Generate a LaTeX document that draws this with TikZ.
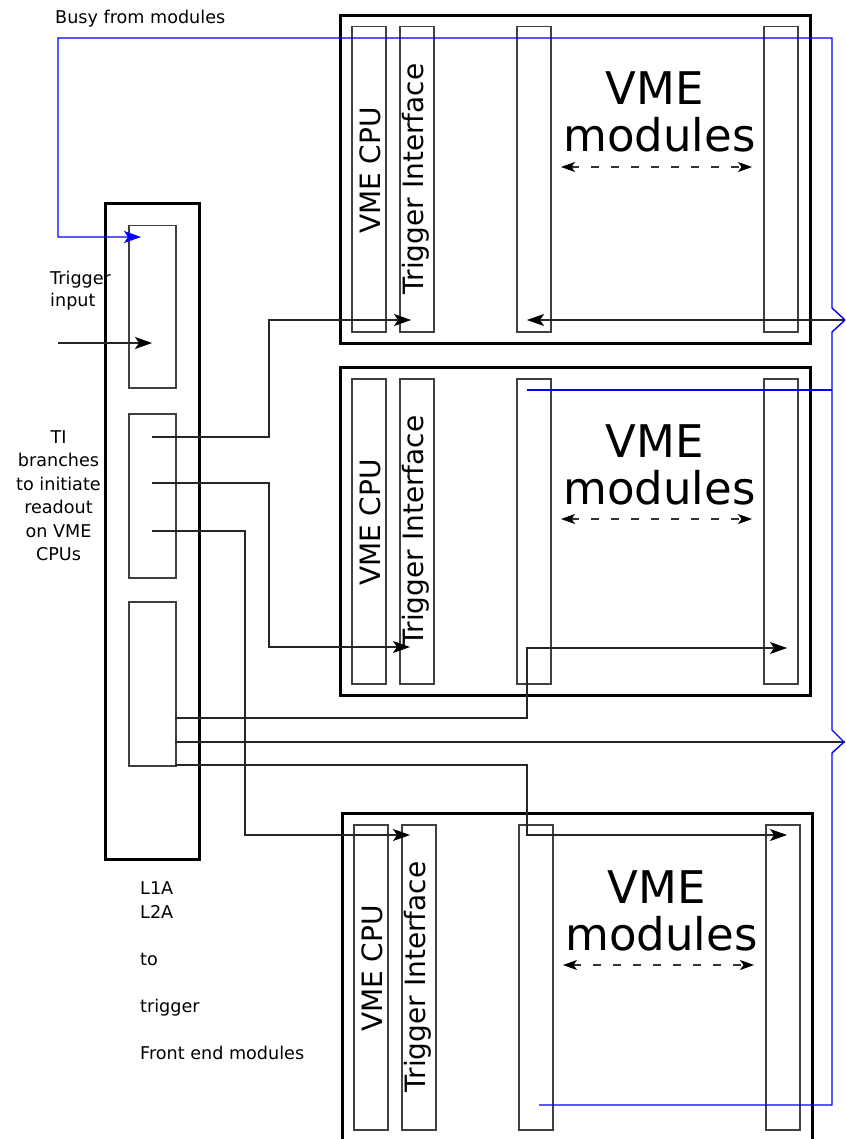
\documentclass[tikz,border=0pt]{standalone}
\usepackage{fontspec}
\setmainfont{DejaVu Sans}
\usetikzlibrary{arrows.meta}
\tikzset{
  crate/.style={draw=black, line width=3pt, rectangle, inner sep=0pt, anchor=north west},
  slot/.style={draw=black!75, line width=1.5pt, rectangle, inner sep=0pt, anchor=north west},
  wire/.style={draw=black!85, line width=1.1pt},
  arr/.style={wire, -{Stealth[length=17pt,width=12pt,inset=4pt,black]}},
  dasharr/.style={draw=black!80, line width=1.1pt, dash pattern=on 8pt off 12pt,
    {Stealth[length=14pt,width=10pt,inset=3.5pt,black]}-{Stealth[length=14pt,width=10pt,inset=3.5pt,black]}},
  busy/.style={draw=blue, line width=1.4pt},
  lbl/.style={font=\fontsize{17.6}{21}\selectfont, inner sep=0pt},
  vtxt/.style={font=\fontsize{28}{30}\selectfont, inner sep=0pt, rotate=90, anchor=base},
  big/.style={font=\fontsize{45}{47}\selectfont, inner sep=0pt, anchor=base},
}
\newcommand\mkcrate[4]{% #1 prefix, #2 dx, #3 dy, #4 box height
  \begin{scope}[shift={(#2,#3)}]
    \node[crate, minimum width=470pt, minimum height=#4pt] (#1box) at (339,14) {};
    \node[slot, minimum width=34pt, minimum height=305pt] (#1cpu) at (351,26) {};
    \node[slot, minimum width=34pt, minimum height=305pt] (#1ti) at (399,26) {};
    \node[slot, minimum width=34pt, minimum height=305pt] (#1ma) at (516,26) {};
    \node[slot, minimum width=34pt, minimum height=305pt] (#1mb) at (763,26) {};
    \node[vtxt] (#1cput) at (380,170.5) {VME CPU};
    \node[vtxt] (#1tit) at (423,179) {Trigger Interface};
    \node[big] (#1vme) at (654.5,105) {VME};
    \node[big] (#1mod) at (659.5,152) {modules};
    \coordinate (#1dl) at (561,167);
    \coordinate (#1dr) at (752,167);
    \draw[dasharr] (#1dl) -- (#1dr);
  \end{scope}}
\begin{document}
\begin{tikzpicture}[x=1pt, y=-1pt]
  \useasboundingbox (0,0) rectangle (845,1139);
  \clip (0,0) rectangle (845,1139);
  % crates
  \mkcrate{A}{0}{0}{328}
  \mkcrate{B}{0}{352}{328}
  \mkcrate{C}{2}{798}{345}
  % TI box
  \node[crate, minimum width=94pt, minimum height=656pt] (tibox) at (104,202) {};
  \node[slot, minimum width=47pt, minimum height=162pt] (tb1) at (128,225) {};
  \node[slot, minimum width=47pt, minimum height=164pt] (tb2) at (128,413) {};
  \node[slot, minimum width=47pt, minimum height=164pt] (tb3) at (128,601) {};
  % labels
  \node[lbl, anchor=base west] (busyl) at (55,24) {Busy from modules};
  \node[lbl, anchor=base west] (trg1) at (50,284) {Trigger};
  \node[lbl, anchor=base west] (trg2) at (50,306) {input};
  \node[lbl, anchor=base] (tx1) at (58.5,443) {TI};
  \node[lbl, anchor=base] (tx2) at (58.5,466.5) {branches};
  \node[lbl, anchor=base] (tx3) at (58.5,490) {to initiate};
  \node[lbl, anchor=base] (tx4) at (58.5,513) {readout};
  \node[lbl, anchor=base] (tx5) at (58.5,537) {on VME};
  \node[lbl, anchor=base] (tx6) at (58.5,560) {CPUs};
  \node[lbl, anchor=base west] (bl1) at (140,894) {L1A};
  \node[lbl, anchor=base west] (bl2) at (140,918) {L2A};
  \node[lbl, anchor=base west] (bl3) at (140,965) {to};
  \node[lbl, anchor=base west] (bl4) at (140,1012) {trigger};
  \node[lbl, anchor=base west] (bl5) at (140,1059) {Front end modules};
  % coordinates
  \coordinate (tin) at (58,343);
  \coordinate (tinE) at (152,343);
  \coordinate (b1s) at (152,437);
  \coordinate (b2s) at (152,483);
  \coordinate (b3s) at (152,531);
  \coordinate (Atiin) at (411,320);
  \coordinate (Btiin) at (410,647);
  \coordinate (Ctiin) at (410,835);
  \coordinate (Bmbin) at (787,648);
  \coordinate (Cmbin) at (787,835);
  \coordinate (Amain) at (527,320);
  \coordinate (rtA) at (845,320);
  \coordinate (rtB) at (845,742);
  \coordinate (o1) at (175,718);
  \coordinate (o2) at (175,742);
  \coordinate (o3) at (175,765);
  \coordinate (busyin) at (141,237);
  \coordinate (busyB) at (527,390);
  \coordinate (busyC) at (539,1105);
  % black connectors
  \draw[arr] (tin) -- (tinE);
  \draw[arr] (b1s) -- (269,437) -- (269,320) -- (Atiin);
  \draw[arr] (b2s) -- (269,483) -- (269,647) -- (Btiin);
  \draw[arr] (b3s) -- (245,531) -- (245,835) -- (Ctiin);
  \draw[arr] (o1) -- (527,718) -- (527,648) -- (Bmbin);
  \draw[arr] (o3) -- (527,765) -- (527,835) -- (Cmbin);
  \draw[wire] (o2) -- (rtB);
  \draw[arr] (rtA) -- (Amain);
  % busy (blue)
  \draw[busy, -{Stealth[length=17pt,width=12pt,inset=4pt]}]
    (busyC) -- (832,1105) -- (832,753) -- (844,742) -- (832,730)
    -- (832,332) -- (845,320) -- (832,308) -- (832,38) -- (58,38)
    -- (58,237) -- (busyin);
  \draw[busy] (busyB) -- (832,390);
\end{tikzpicture}
\end{document}
